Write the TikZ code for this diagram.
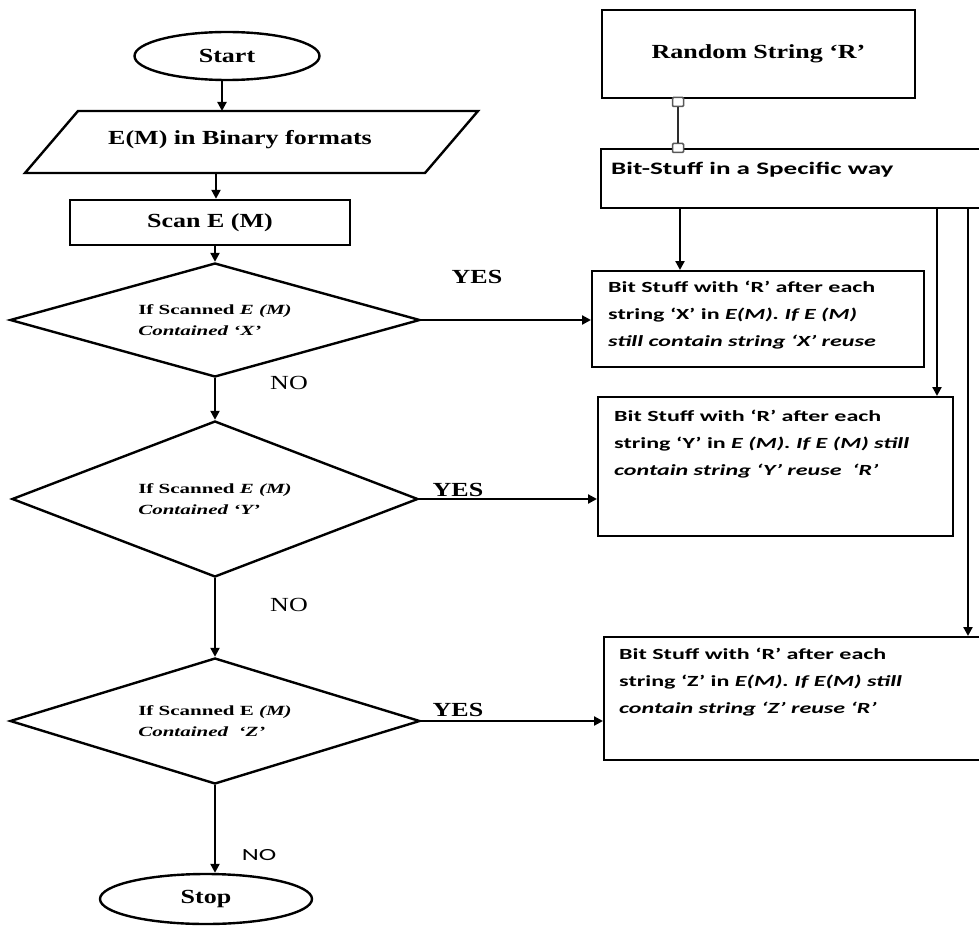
\documentclass[tikz,border=0pt]{standalone}
\usepackage{fontspec}
\usetikzlibrary{shapes.geometric,arrows.meta}
\newfontfamily\serA[FakeStretch=1.3]{Liberation Serif}
\newfontfamily\serB[FakeStretch=1.5]{Liberation Serif}
\newfontfamily\calA[FakeStretch=1.55]{Carlito}
\begin{document}
\begin{tikzpicture}[x=1pt,y=-1pt,
  box/.style={draw,line width=2.4pt,inner sep=0pt},
  arr/.style={line width=2.2pt,-{Triangle[length=9pt,width=9pt]}},
  big/.style={font=\serA\bfseries\fontsize{20}{24}\selectfont},
  dtext/.style={font=\serB\bfseries\fontsize{14}{21}\selectfont,align=left},
  btext/.style={font=\calA\bfseries\fontsize{15.5}{27}\selectfont,align=left,inner sep=0pt,anchor=north west},
  yeslab/.style={font=\serA\bfseries\fontsize{20}{24}\selectfont,inner sep=0pt},
  nolab/.style={font=\serA\fontsize{20}{24}\selectfont,inner sep=0pt},
  sq/.style={draw=gray!70!black,fill=white,line width=1.5pt,minimum width=11pt,minimum height=9pt,inner sep=0pt,rounded corners=1pt}]
\useasboundingbox (0,0) rectangle (979,928);
\clip (0,0) rectangle (979,928);
% left column
\node[box,ellipse,minimum width=185pt,minimum height=48pt,big] (start) at (227,56) {Start};
\coordinate (inpT) at (222,111);
\coordinate (inpB) at (216,173);
\draw[line width=2.4pt,line join=miter] (78,111) -- (478,111) -- (425,173) -- (25,173) -- cycle;
\node[big,inner sep=0pt] (inp) at (240,140) {E(M) in Binary formats};
\node[box,minimum width=280pt,minimum height=45pt,big] (scan) at (210,222.5) {Scan E (M)};
\node[box,diamond,aspect=3,minimum width=410pt,minimum height=114pt,dtext] (d1) at (215,320)
  {If Scanned \textit{E (M)}\\ \textit{Contained ‘X’}};
\node[box,diamond,aspect=3,minimum width=406pt,minimum height=156pt,dtext] (d2) at (215,499)
  {If Scanned \textit{E (M)}\\ \textit{Contained ‘Y’}};
\node[box,diamond,aspect=3,minimum width=410pt,minimum height=126pt,dtext] (d3) at (215,721)
  {If Scanned E \textit{(M)}\\ \textit{Contained\ \ ‘Z’}};
\node[box,ellipse,minimum width=212pt,minimum height=50pt,big] (stop) at (206,899) {Stop};
\draw[arr] (inpT |- start.south) -- (inpT);
\draw[arr] (inpB) -- (inpB |- scan.north);
\draw[arr] (scan.south -| d1.north) -- (d1.north);
\draw[arr] (d1.south) -- (d2.north);
\draw[arr] (d2.south) -- (d3.north);
\draw[arr] (d3.south) -- (d3.south |- stop.north);
% right column
\node[box,minimum width=313pt,minimum height=88pt,big] (rnd) at (758.5,54) {Random String ‘R’};
\node[box,minimum width=390pt,minimum height=59pt,anchor=north west] (bs) at (600,148) {};
\node[font=\calA\bfseries\fontsize{17.5}{20}\selectfont,anchor=west,inner sep=0pt] (bst) at (611,170) {Bit-Stuff in a Specific way};
\node[box,minimum width=332pt,minimum height=96pt,anchor=north west] (bx) at (591,270) {};
\node[btext] (bxt) at (608,281) {Bit Stuff with ‘R’ after each\\ string ‘X’ in \textit{E(M). If E (M)}\\ \textit{still contain string ‘X’ reuse}};
\node[box,minimum width=355pt,minimum height=139pt,anchor=north west] (by) at (597,396) {};
\node[btext] (byt) at (614,410) {Bit Stuff with ‘R’ after each\\ string ‘Y’ in \textit{E (M). If E (M) still}\\ \textit{contain string ‘Y’ reuse\ \ ‘R’}};
\node[box,minimum width=390pt,minimum height=123pt,anchor=north west] (bz) at (603,636) {};
\node[btext] (bzt) at (619,648) {Bit Stuff with ‘R’ after each\\ string ‘Z’ in \textit{E(M). If E(M) still}\\ \textit{contain string ‘Z’ reuse ‘R’}};
% R -> bit-stuff connector
\node[sq] (sqa) at (678,102) {};
\node[sq] (sqb) at (678,148) {};
\draw[line width=2pt,gray!35!black] (sqa) -- (sqb);
% bit-stuff to boxes
\path (bs.south west) ++(80,0) coordinate (b1);
\path (bs.south west) ++(337,0) coordinate (b2);
\path (bs.south west) ++(368,0) coordinate (b3);
\draw[arr] (b1) -- (b1 |- bx.north);
\draw[arr] (b2) -- (b2 |- by.north);
\draw[arr] (b3) -- (b3 |- bz.north);
% yes arrows
\draw[arr] (d1.east) -- (d1.east -| bx.west);
\draw[arr] (d2.east) -- (d2.east -| by.west);
\draw[arr] (d3.east) -- (d3.east -| bz.west);
% labels
\node[yeslab] (yes1) at (477,277) {YES};
\node[yeslab] (yes2) at (458,490) {YES};
\node[yeslab] (yes3) at (458,710) {YES};
\node[nolab] (no1) at (289,383) {NO};
\node[nolab] (no2) at (289,605) {NO};
\node[font=\calA\fontsize{17}{20}\selectfont,inner sep=0pt] (no3) at (259,855) {NO};
\end{tikzpicture}
\end{document}
